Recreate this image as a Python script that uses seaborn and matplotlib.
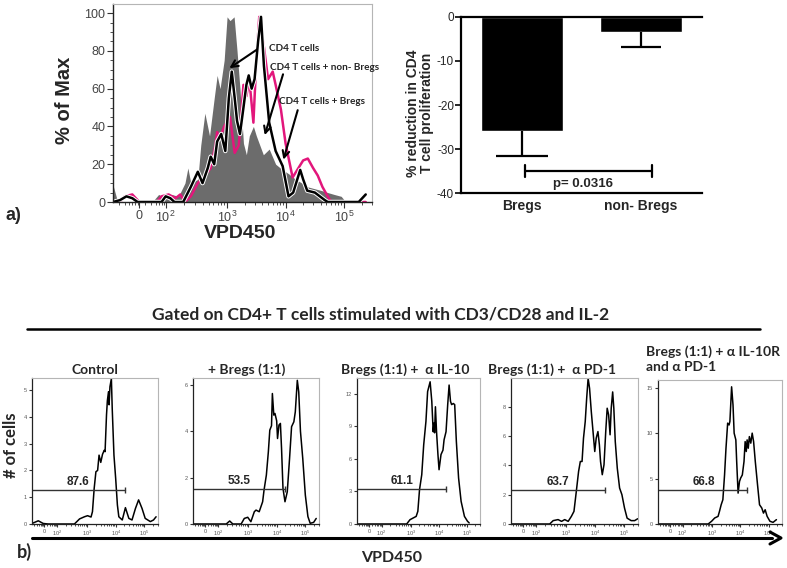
import numpy as np
import matplotlib
matplotlib.use("Agg")
import matplotlib.pyplot as plt
from matplotlib.lines import Line2D
import matplotlib.patheffects as pe
import seaborn as sns

# ---- panel a (left): VPD450 overlay, x in display decades (0 -> 1.5, 10^2 -> 1.95)
cd4_x = [1.05, 1.13, 1.72, 1.83, 1.95, 2.05, 2.17, 2.28, 2.33, 2.38, 2.50, 2.55, 2.62, 2.70,
         2.78, 2.83, 2.88, 2.95, 3.00, 3.05, 3.12, 3.17, 3.22, 3.28, 3.33, 3.38, 3.45, 3.50,
         3.62, 3.72, 3.83, 3.95, 4.05, 4.17, 4.28, 4.38, 4.50, 4.62, 4.72, 4.83, 4.95, 5.03, 5.37]
cd4_y = [9, 0, 0, 4, 2, 4, 3, 10, 18, 10, 12, 30, 47, 35, 55, 67, 60, 75, 98, 96, 98, 80, 60,
         31, 25, 35, 40, 35, 25, 28, 20, 17, 15, 12, 10, 8, 7, 6, 5, 4, 3, 0, 0]

nonbregs_x = [1.05, 1.17, 1.25, 1.38, 1.50, 1.80, 1.88, 2.00, 2.12, 2.20, 2.28, 2.38, 2.50,
              2.62, 2.72, 2.80, 2.83, 2.88, 2.95, 3.05, 3.13, 3.20, 3.28, 3.33, 3.38, 3.45,
              3.50, 3.55, 3.63, 3.70, 3.78, 3.83, 3.92, 4.00, 4.12, 4.22, 4.30, 4.38, 4.47,
              4.55, 4.63, 4.72, 4.78, 5.37]
nonbregs_y = [0, 0, 3, 4, 0, 0, 3, 4, 2, 4, 0, 3, 10, 14, 18, 30, 37, 34, 40, 45, 26, 30, 62,
              56, 65, 42, 75, 98, 82, 65, 69, 62, 49, 31, 13, 18, 22, 23, 18, 14, 8, 3, 0, 0]

bregs_x = [1.05, 1.17, 1.28, 1.38, 1.47, 1.88, 1.95, 2.03, 2.10, 2.25, 2.38, 2.50, 2.58, 2.67,
           2.72, 2.78, 2.83, 2.90, 2.97, 3.03, 3.08, 3.13, 3.17, 3.22, 3.28, 3.33, 3.37, 3.42,
           3.47, 3.53, 3.58, 3.63, 3.72, 3.83, 3.95, 4.05, 4.13, 4.22, 4.25, 4.30, 4.37, 4.50,
           4.67, 4.72, 5.25, 5.37]
bregs_y = [0, 1, 3, 2, 0, 0, 3, 2, 0, 0, 8, 16, 10, 18, 24, 20, 32, 36, 27, 55, 69, 55, 43, 36,
           50, 62, 67, 60, 65, 85, 98, 72, 42, 27, 19, 3, 5, 14, 17, 12, 6, 5, 1, 0, 0, 4]

# ---- panel a (right): % reduction
groups = ["Bregs", "non- Bregs"]
reduction = [-26.0, -3.5]
reduction_err = [5.5, 3.3]
p_label = "p= 0.0316"

# ---- panel b: five conditions
titles = ["Control", "+ Bregs (1:1)", "Bregs (1:1) +  \u03b1 IL-10", "Bregs (1:1) +  \u03b1 PD-1",
          "Bregs (1:1) + \u03b1 IL-10R\nand \u03b1 PD-1"]
ctrl_x = [1.08, 1.30, 1.47, 1.64, 2.56, 2.74, 2.91, 3.02, 3.14, 3.19, 3.25, 3.31, 3.37, 3.42,
          3.48, 3.54, 3.60, 3.63, 3.68, 3.71, 3.75, 3.77, 3.80, 3.85, 3.88, 3.94, 4.00, 4.06,
          4.11, 4.23, 4.34, 4.46, 4.57, 4.69, 4.80, 4.92, 5.03, 5.21, 5.32, 5.41]
ctrl_y = [0.02, 0.12, 0.02, 0, 0, 0.19, 0.27, 0.31, 0.26, 0.46, 1.33, 1.95, 2.0, 2.57, 2.3,
          2.6, 2.75, 2.7, 4.07, 4.6, 4.94, 4.45, 5.12, 5.43, 4.3, 2.57, 1.7, 0.71, 0.27, 0.15,
          0.61, 0.21, 0.15, 0.58, 0.9, 0.58, 0.21, 0.09, 0.15, 0.27]
bregs11_x = [1.09, 2.24, 2.36, 2.47, 2.76, 2.87, 2.99, 3.10, 3.22, 3.28, 3.39, 3.51, 3.56, 3.64,
             3.71, 3.76, 3.82, 3.85, 3.90, 3.94, 4.00, 4.03, 4.08, 4.13, 4.17, 4.22, 4.29, 4.37,
             4.45, 4.52, 4.60, 4.65, 4.72, 4.77, 4.83, 4.91, 5.00, 5.09, 5.17, 5.29, 5.38]
bregs11_y = [0, 0, 0.13, 0, 0, 0.24, 0.29, 0.1, 0.53, 0.6, 0.53, 0.96, 1.47, 2.11, 3.12, 4.05,
             4.24, 5.63, 4.7, 4.77, 4.45, 3.69, 4.27, 4.34, 3.26, 1.54, 0.96, 1.39, 2.83, 4.2,
             4.41, 4.84, 6.2, 5.7, 4.0, 2.83, 1.25, 0.32, 0.03, 0.07, 0.24]
il10_x = [1.07, 2.85, 2.97, 3.19, 3.25, 3.31, 3.39, 3.46, 3.54, 3.60, 3.69, 3.75, 3.80, 3.83,
          3.85, 3.88, 3.92, 3.97, 4.01, 4.08, 4.15, 4.19, 4.26, 4.32, 4.37, 4.42, 4.46, 4.52,
          4.57, 4.63, 4.71, 4.80, 4.92, 5.03, 5.09]
il10_y = [0, 0, 0.4, 0.7, 1.17, 3.16, 4.54, 7.3, 9.45, 12.2, 13.1, 11.3, 8.5, 9.3, 8.4, 10.8,
          8.5, 6.4, 5.0, 6.4, 6.8, 7.76, 8.5, 11.0, 12.8, 11.3, 11.0, 11.1, 11.0, 7.6, 4.23,
          2.09, 0.7, 0.25, 0.1]
pd1_x = [1.10, 2.42, 2.54, 2.71, 2.83, 2.94, 3.06, 3.17, 3.26, 3.34, 3.42, 3.48, 3.54, 3.59,
         3.65, 3.70, 3.75, 3.80, 3.86, 3.92, 3.98, 4.03, 4.09, 4.14, 4.18, 4.24, 4.30, 4.36,
         4.41, 4.46, 4.51, 4.55, 4.60, 4.64, 4.69, 4.76, 4.84, 4.92, 5.01, 5.10, 5.24, 5.36, 5.47]
pd1_y = [0, 0, 0.23, 0.3, 0.18, 0.3, 0.18, 0.52, 0.86, 2.2, 3.58, 4.26, 4.26, 5.85, 6.98, 8.57,
         9.93, 9.25, 7.66, 6.3, 4.94, 5.85, 6.3, 5.4, 4.26, 3.36, 4.04, 6.3, 7.89, 7.44, 6.08,
         7.89, 9.0, 7.89, 5.62, 3.8, 2.45, 2.0, 1.09, 0.4, 0.23, 0.23, 0.36]
il10r_x = [1.08, 2.86, 2.98, 3.09, 3.21, 3.26, 3.32, 3.38, 3.44, 3.49, 3.55, 3.60, 3.63, 3.69,
           3.74, 3.78, 3.84, 3.87, 3.92, 3.97, 4.01, 4.07, 4.13, 4.17, 4.21, 4.24, 4.28, 4.32,
           4.37, 4.42, 4.47, 4.53, 4.61, 4.68, 4.76, 4.82, 4.88, 4.95, 5.05, 5.16, 5.28]
il10r_y = [0, 0, 0.3, 0.66, 0.84, 1.39, 2.12, 2.67, 5.4, 8.3, 11.1, 10.9, 11.3, 15.1, 13.1,
           10.0, 9.26, 6.88, 3.4, 4.68, 5.05, 5.4, 6.88, 9.07, 7.98, 9.26, 8.34, 9.62, 8.9,
           10.0, 9.07, 6.88, 4.3, 2.12, 1.76, 1.2, 1.57, 0.84, 0.3, 0.18, 0.48]
curves_x = [ctrl_x, bregs11_x, il10_x, pd1_x, il10r_x]
curves_y = [ctrl_y, bregs11_y, il10_y, pd1_y, il10r_y]
gate_pct = ["87.6", "53.5", "61.1", "63.7", "66.8"]
gate_end = [4.32, 4.29, 4.26, 4.32, 4.24]
gate_level = [1.27, 1.49, 3.22, 2.34, 3.77]
y_max = [5.45, 6.3, 13.45, 9.95, 15.85]
y_ticks = [[0, 1, 2, 3, 4, 5], [0, 2, 4, 6], [0, 3, 6, 9, 12], [0, 2, 4, 6, 8], [0, 5, 10, 15]]

# ---------------------------------------------------------------
sns.set_style("ticks")
ARIAL = ["Liberation Sans", "DejaVu Sans"]
CALIBRI = ["Lato", "DejaVu Sans"]
plt.rcParams["font.family"] = ARIAL
plt.rcParams["mathtext.default"] = "regular"
plt.rcParams["axes.unicode_minus"] = False

W, H = 787, 568
fig = plt.figure(figsize=(W / 100, H / 100), dpi=100)


def px_axes(l, t, r, b):
    return fig.add_axes([l / W, 1 - b / H, (r - l) / W, (b - t) / H])


def ftext(x, y, s, **kw):
    return fig.text(x / W, 1 - y / H, s, **kw)


major_x = [1.5, 1.95, 3, 4, 5]
major_lbl = ["0", "$10^2$", "$10^3$", "$10^4$", "$10^5$"]
k = np.arange(2, 10)
minor_x = np.concatenate([[1.15, 1.25, 1.32, 1.38, 1.43, 1.47, 1.6, 1.7, 1.78, 1.84, 1.89, 1.92],
                          1.95 + 1.05 * np.log10(k), 3 + np.log10(k), 4 + np.log10(k),
                          5 + np.log10([2, 3])])


def flow_frame(ax, xlim, lbl_size, tick_len, lw):
    ax.set_xlim(*xlim)
    ax.set_xticks(major_x)
    ax.set_xticklabels(major_lbl)
    ax.set_xticks(minor_x, minor=True)
    for s in ["top", "right"]:
        ax.spines[s].set_color("#b5b5b5")
        ax.spines[s].set_linewidth(0.8)
    for s in ["left", "bottom"]:
        ax.spines[s].set_color("#222222")
        ax.spines[s].set_linewidth(lw)
    ax.tick_params(which="major", length=tick_len, width=0.8, labelsize=lbl_size,
                   labelcolor="#555555", color="#333333", pad=1.5)
    ax.tick_params(which="minor", length=tick_len * 0.6, width=0.6, color="#333333")
    ax.set_xlabel("")
    ax.set_ylabel("")


# ---- a) overlay histogram
ax1 = px_axes(113, 4, 372, 202)
ax1.fill_between(cd4_x, cd4_y, color="#6c6c6c", lw=0)
sns.lineplot(x=nonbregs_x, y=nonbregs_y, ax=ax1, color="#e2167b", lw=1.8,
             estimator=None, sort=False)
sns.lineplot(x=bregs_x, y=bregs_y, ax=ax1, color="black", lw=1.8, estimator=None, sort=False,
             path_effects=[pe.withStroke(linewidth=3.2, foreground="white")])
flow_frame(ax1, (1.05, 5.37), 9, 4, 1.0)
ax1.set_ylim(0, 104.8)
ax1.set_yticks([0, 20, 40, 60, 80, 100])
ax1.set_yticks(np.arange(0, 101, 5), minor=True)
ax1.tick_params(axis="both", labelcolor="#444444")

arrows = [("CD4 T cells", (3.0, 70), (3.55, 81.5), (3.72, 81.5)),
          ("CD4 T cells + non- Bregs", (3.63, 34), (3.97, 69), (3.74, 71.4)),
          ("CD4 T cells + Bregs", (3.95, 21), (4.22, 50), (3.89, 53.4))]
for lbl, tip, tail, pos in arrows:
    ax1.annotate("", xy=tip, xytext=tail,
                 arrowprops=dict(arrowstyle="->", color="black", lw=1.5,
                                 mutation_scale=12))
    ax1.text(pos[0], pos[1], lbl, family=CALIBRI, fontweight="bold", fontsize=7.2,
             va="center", ha="left", clip_on=False)

ftext(65, 100, "% of Max", rotation=90, ha="center", va="center", fontsize=14.5,
      fontweight="bold")
ftext(240, 233, "VPD450", ha="center", va="center", fontsize=14, fontweight="bold")
ftext(5, 215, "a)", ha="left", va="center", fontsize=13, fontweight="bold")

# ---- a) bar chart
ax2 = px_axes(461, 16.7, 702, 193.3)
sns.barplot(x=groups, y=reduction, color="black", width=0.69, ax=ax2, saturation=1,
            errorbar=None)
low = np.array(reduction) - np.array(reduction_err)
ax2.vlines([0, 1], reduction, low, color="black", lw=1.6)
ax2.hlines(low, [-0.22, 0.83], [0.22, 1.17], color="black", lw=1.6)
ax2.set_xlim(-0.51, 1.51)
ax2.set_ylim(-40, 0)
ax2.set_yticks([0, -10, -20, -30, -40])
ax2.spines["right"].set_visible(False)
for s in ["left", "top", "bottom"]:
    ax2.spines[s].set_linewidth(1.6)
    ax2.spines[s].set_color("black")
ax2.tick_params(axis="y", length=4, width=1.4, labelsize=8.5, pad=1)
ax2.tick_params(axis="x", length=0, labelsize=10, pad=4)
for t in ax2.get_xticklabels():
    t.set_fontweight("bold")
ax2.plot([0.03, 1.09], [-35, -35], color="black", lw=1.6)
ax2.plot([0.03, 0.03], [-36.3, -33.7], color="black", lw=1.6)
ax2.plot([1.09, 1.09], [-36.3, -33.7], color="black", lw=1.6)
ax2.text(0.51, -37.8, p_label, ha="center", va="center", fontsize=9.5, fontweight="bold")
ax2.set_ylabel("")
ftext(420, 113, "% reduction in CD4\nT cell proliferation", rotation=90, ha="center",
      va="center", fontsize=10, fontweight="bold", linespacing=1.05)

# ---- b) title and guide lines
ftext(381, 315, "Gated on CD4+ T cells stimulated with CD3/CD28 and IL-2", ha="center",
      va="center", family=CALIBRI, fontweight="bold", fontsize=12.5)
fig.add_artist(Line2D([27 / W, 760 / W], [1 - 329 / H] * 2, color="black", lw=1.8))
fig.add_artist(Line2D([32 / W, 772 / W], [1 - 538 / H] * 2, color="black", lw=2.2))
fig.add_artist(Line2D([770 / W, 781 / W, 770 / W], [1 - 532 / H, 1 - 538 / H, 1 - 544 / H],
                      color="black", lw=2.2))

boxes = [(32, 378, 158, 524), (193, 378, 319, 524), (357, 378, 480, 524),
         (511, 378, 638, 524), (658, 380, 782, 524)]
xlims = [(1.08, 5.46), (1.08, 5.45), (1.07, 5.32), (1.08, 5.47), (1.08, 5.33)]
title_pos = [(95, 370, "center"), (247, 370, "center"), (405, 370, "center"),
             (552, 370, "center"), (646, 359, "left")]

for i in range(5):
    ax = px_axes(*boxes[i])
    sns.lineplot(x=curves_x[i], y=curves_y[i], ax=ax, color="black", lw=1.1,
                 estimator=None, sort=False)
    flow_frame(ax, xlims[i], 4, 2, 0.9)
    ax.set_ylim(0, y_max[i])
    ax.set_yticks(y_ticks[i])
    ax.plot([xlims[i][0], gate_end[i]], [gate_level[i]] * 2, color="#333333", lw=1.0,
            marker="|", markevery=[1], ms=5, mew=1.0)
    ax.annotate(gate_pct[i], (2.7, gate_level[i]), xytext=(0, 1.5),
                textcoords="offset points", ha="center", va="bottom", fontsize=8.5,
                fontweight="bold")
    tx, ty, ha = title_pos[i]
    ftext(tx, ty, titles[i], ha=ha, va="center", family=CALIBRI, fontweight="bold",
          fontsize=10, linespacing=1.35)

ftext(11, 445, "# of cells", rotation=90, ha="center", va="center", family=CALIBRI,
      fontweight="bold", fontsize=12)
ftext(17, 552, "b)", ha="left", va="center", family=CALIBRI, fontweight="bold", fontsize=13)
ftext(392, 558, "VPD450", ha="center", va="center", family=CALIBRI, fontweight="bold",
      fontsize=11.5)

fig.savefig("out.png", dpi=100)
